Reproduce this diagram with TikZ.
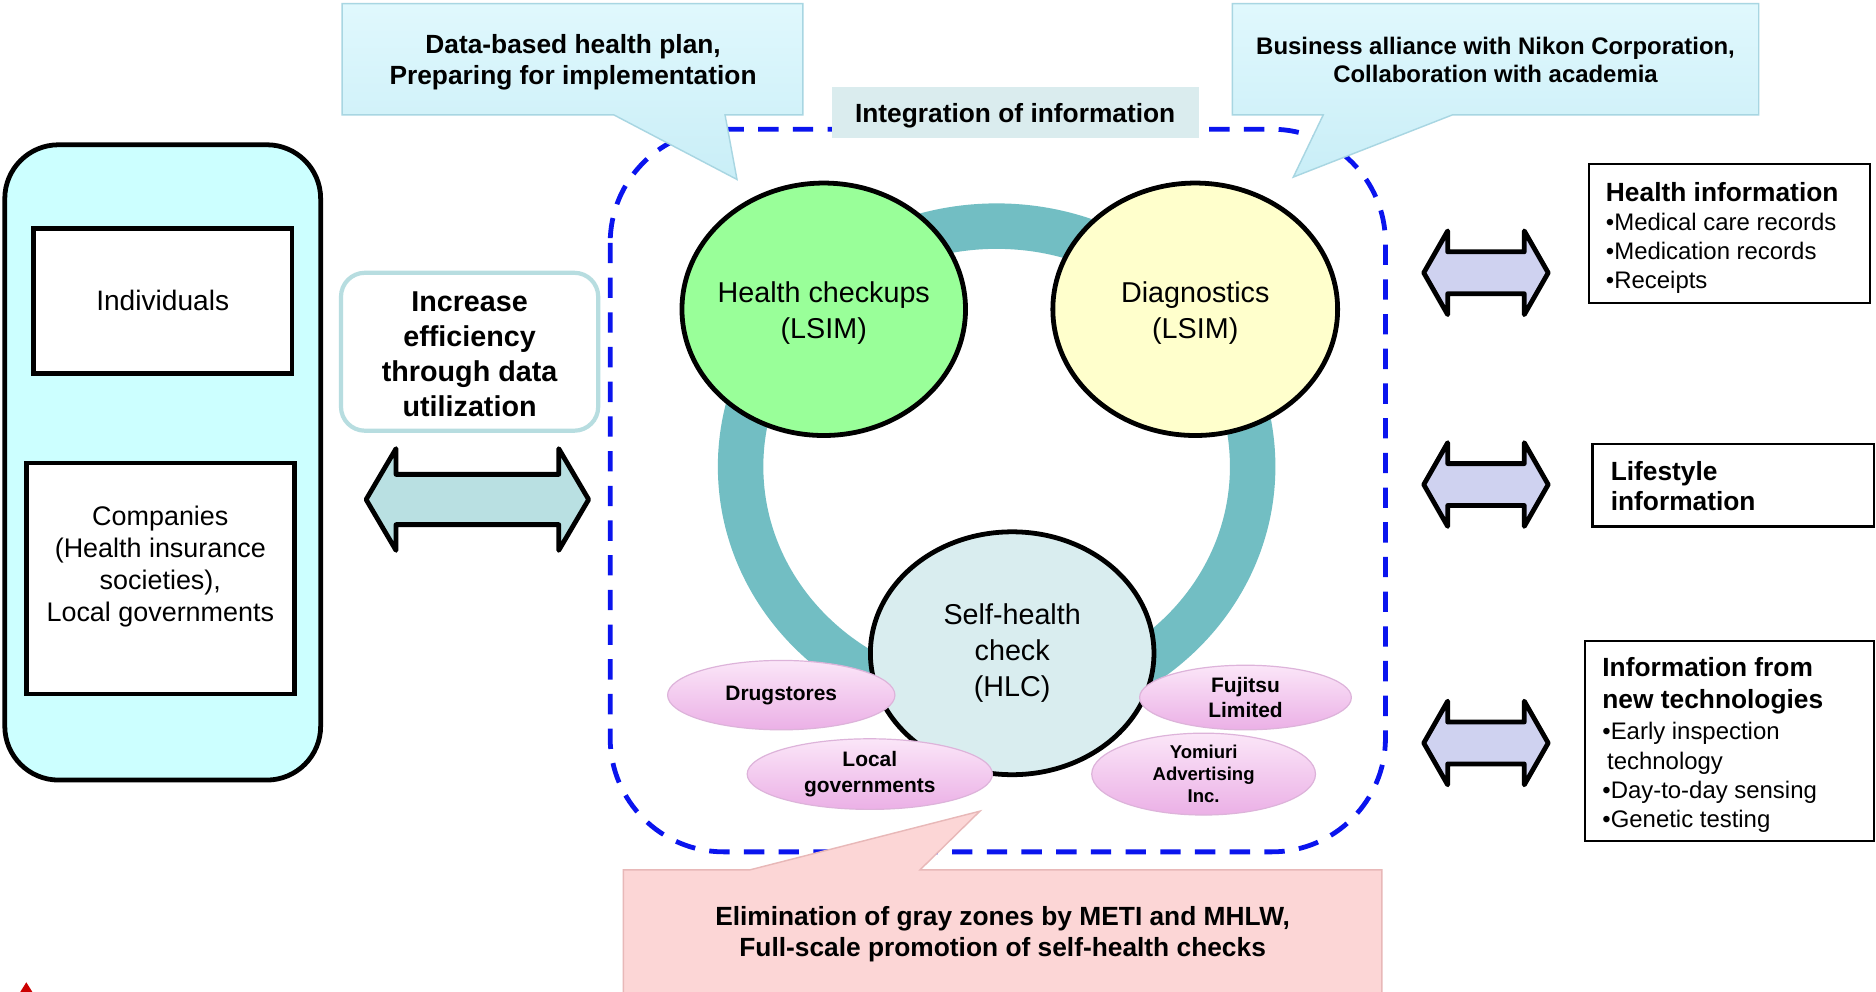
\documentclass[tikz,border=0pt]{standalone}
\usepackage{fontspec}
\setmainfont{Liberation Sans}
\usetikzlibrary{shapes.geometric}
\newcommand{\setfs}[2]{\fontsize{#1}{#2}\selectfont}

\definecolor{panelcyan}{HTML}{CCFFFF}
\definecolor{incborder}{HTML}{B7DDE0}
\definecolor{arrowteal}{HTML}{B9E0E2}
\definecolor{arrowlav}{HTML}{CFD2F0}
\definecolor{ringteal}{HTML}{72BEC3}
\definecolor{hcgreen}{HTML}{99FF99}
\definecolor{dgyellow}{HTML}{FFFFCC}
\definecolor{shcfill}{HTML}{D9EDEF}
\definecolor{pinktop}{HTML}{FBE6F8}
\definecolor{pinkmid}{HTML}{F6C8F2}
\definecolor{pinkbot}{HTML}{EBB0E6}
\definecolor{pinkedge}{HTML}{DDB3DA}
\definecolor{intfill}{HTML}{DAECEE}
\definecolor{calltop}{HTML}{E0F8FD}
\definecolor{callbot}{HTML}{C9EEF7}
\definecolor{calledge}{HTML}{A8D6E2}
\definecolor{callpink}{HTML}{FCD6D6}
\definecolor{callpinkedge}{HTML}{E8B8B8}
\definecolor{dashblue}{HTML}{0A14EE}

\tikzset{
  pics/dblarrow/.style n args={4}{code={
    \draw[pic actions]
      ({-#1/2},0) -- ({-#1/2+#4},{#2/2}) -- ({-#1/2+#4},{#3/2})
      -- ({#1/2-#4},{#3/2}) -- ({#1/2-#4},{#2/2}) -- ({#1/2},0)
      -- ({#1/2-#4},{-#2/2}) -- ({#1/2-#4},{-#3/2})
      -- ({-#1/2+#4},{-#3/2}) -- ({-#1/2+#4},{-#2/2}) -- cycle;
  }},
  panelbox/.style={draw=black, line width=4pt, fill=panelcyan, rounded corners=45pt},
  whitebox/.style={draw=black, line width=4pt, fill=white, inner sep=0pt, align=center},
  infobox/.style={draw=black, line width=1.8pt, fill=white, inner sep=0pt},
  infotext/.style={inner sep=0pt, align=left, anchor=west},
  bigell/.style={ellipse, draw=black, line width=4pt, inner sep=0pt},
  elltext/.style={inner sep=0pt, align=center, font=\setfs{24}{30}},
  pinkell/.style={ellipse, draw=pinkedge, line width=1pt, top color=pinktop, middle color=pinkmid,
    bottom color=pinkbot, inner sep=0pt, align=center, font=\bfseries\setfs{17.5}{21}},
  blockarrow/.style={draw=black, line width=4pt, line join=round},
  calloutcyan/.style={draw=calledge, line width=1.2pt, top color=calltop, bottom color=callbot},
  calloutpink/.style={draw=callpinkedge, line width=1.2pt, fill=callpink},
  boldtext/.style={font=\bfseries\setfs{22}{26}, align=center, inner sep=0pt}
}

\begin{document}
\begin{tikzpicture}[x=1pt, y=-1pt]
\useasboundingbox (0,0) rectangle (1568,829);
\fill[white] (0,0) rectangle (1568,829);

% Stakeholders panel on the left
\node[panelbox, minimum width=264pt, minimum height=531pt] (actors) at (136,386.5) {};
\node[whitebox, minimum width=216pt, minimum height=121pt, font=\setfs{23.5}{27}] (indiv) at (136,251.5) {Individuals};
\node[whitebox, minimum width=224pt, minimum height=193pt] (corp) at (134,483.5) {};
\node[inner sep=0pt, align=center, font=\setfs{22.5}{27}] (corptext) at ([yshift=10pt]corp.center)
  {Companies\\(Health insurance\\societies),\\Local governments};

% Efficiency note and exchange arrow
\node[draw=incborder, line width=3.5pt, rounded corners=20pt, fill=white, minimum width=215pt,
  minimum height=132pt] (effic) at (392.5,294) {};
\node[inner sep=0pt, align=center, font=\bfseries\setfs{24}{29.3}] (effictext) at ([yshift=-2pt]effic.center)
  {Increase\\efficiency\\through data\\utilization};
\pic[blockarrow, fill=arrowteal] (xchg) at (399,417.5) {dblarrow={186}{85}{42}{25}};

% Integration area
\draw[dashblue, line width=4pt, dash pattern=on 17pt off 12pt, rounded corners=95pt]
  (510,108) rectangle (1158,712);

% Cycle linking the three services
\draw[ringteal, line width=38pt] (833,390) ellipse [x radius=214, y radius=201];

\node[bigell, fill=hcgreen, minimum width=237pt, minimum height=211pt] (hc) at (688.5,258.5) {};
\node[elltext] (hctext) at ([yshift=-3pt]hc.center) {Health checkups\\(LSIM)};
\node[bigell, fill=dgyellow, minimum width=238pt, minimum height=211pt] (diag) at (999,258.5) {};
\node[elltext] (diagtext) at ([yshift=-3pt]diag.center) {Diagnostics\\(LSIM)};
\node[bigell, fill=shcfill, minimum width=237pt, minimum height=203pt] (shc) at (846,546) {};
\node[elltext] (shctext) at (shc.center) {Self-health\\check\\(HLC)};

% Partners around the self-health check
\node[pinkell, minimum width=190pt, minimum height=58pt] (drug) at (653,581) {Drugstores};
\node[pinkell, minimum width=205pt, minimum height=59pt] (locgov) at (727,647) {Local\\governments};
\node[pinkell, minimum width=177pt, minimum height=54pt] (fujitsu) at (1041,583) {Fujitsu\\Limited};
\node[pinkell, minimum width=187pt, minimum height=60pt, font=\bfseries\setfs{15.5}{18.5}] (yomiuri) at (1006,647)
  {Yomiuri\\Advertising\\Inc.};

\node[fill=intfill, minimum width=307pt, minimum height=42pt, inner sep=0pt] (integ) at (848.5,94) {};
\node[inner sep=0pt, font=\bfseries\setfs{22}{26}] (integtext) at ([yshift=-3pt]integ.center) {Integration of information};

% Callouts
\path[calloutcyan] (286,3) -- (671,3) -- (671,96) -- (606,96) -- (616,150) -- (513,96) -- (286,96) -- cycle;
\node[boldtext] (plan) at (479,52) {Data-based health plan,\\Preparing for implementation};

\path[calloutcyan] (1030,3) -- (1470,3) -- (1470,96) -- (1214,96) -- (1081,148) -- (1106,96) -- (1030,96) -- cycle;
\node[boldtext, font=\bfseries\setfs{20}{24}] (alliance) at (1250,50) {Business alliance with Nikon Corporation,\\Collaboration with academia};

\path[calloutpink] (521,727) -- (627,727) -- (819,678) -- (769,727) -- (1155,727) -- (1155,832) -- (521,832) -- cycle;
\node[boldtext] (gray) at (838,781) {Elimination of gray zones by METI and MHLW,\\Full-scale promotion of self-health checks};

% Information sources on the right
\pic[blockarrow, fill=arrowlav] (xhealth) at (1242,228) {dblarrow={104}{70}{35}{20}};
\pic[blockarrow, fill=arrowlav] (xlife) at (1242,405) {dblarrow={104}{70}{35}{20}};
\pic[blockarrow, fill=arrowlav] (xtech) at (1242,621) {dblarrow={104}{70}{35}{20}};

\node[infobox, minimum width=235pt, minimum height=116pt] (healthinfo) at (1445.5,195) {};
\node[infotext, font=\setfs{20}{24.3}] (healthtext) at ([xshift=15pt, yshift=-4pt]healthinfo.west)
  {{\bfseries\fontsize{22}{24.3}\selectfont Health information}\\ \textbullet Medical care records\\ \textbullet Medication records\\ \textbullet Receipts};

\node[infobox, minimum width=235pt, minimum height=69pt] (lifeinfo) at (1448.5,405.5) {};
\node[infotext, font=\bfseries\setfs{22}{25}] (lifetext) at ([xshift=16pt, yshift=-1pt]lifeinfo.west)
  {Lifestyle\\information};

\node[infobox, minimum width=241pt, minimum height=167pt] (techinfo) at (1445.5,619.5) {};
\node[infotext, font=\setfs{20}{24.3}] (techtext) at ([xshift=15pt, yshift=-3pt]techinfo.west)
  {{\bfseries\fontsize{22}{24.3}\selectfont Information from}\\[2.7pt]
   {\bfseries\fontsize{22}{24.3}\selectfont new technologies}\\[1.7pt]
   \textbullet Early inspection\\ \hspace*{4pt}technology\\ \textbullet Day-to-day sensing\\ \textbullet Genetic testing};

% Small mark at the lower left edge
\fill[red!80!black] (17,829) -- (22,821) -- (27,829) -- cycle;
\end{tikzpicture}
\end{document}
